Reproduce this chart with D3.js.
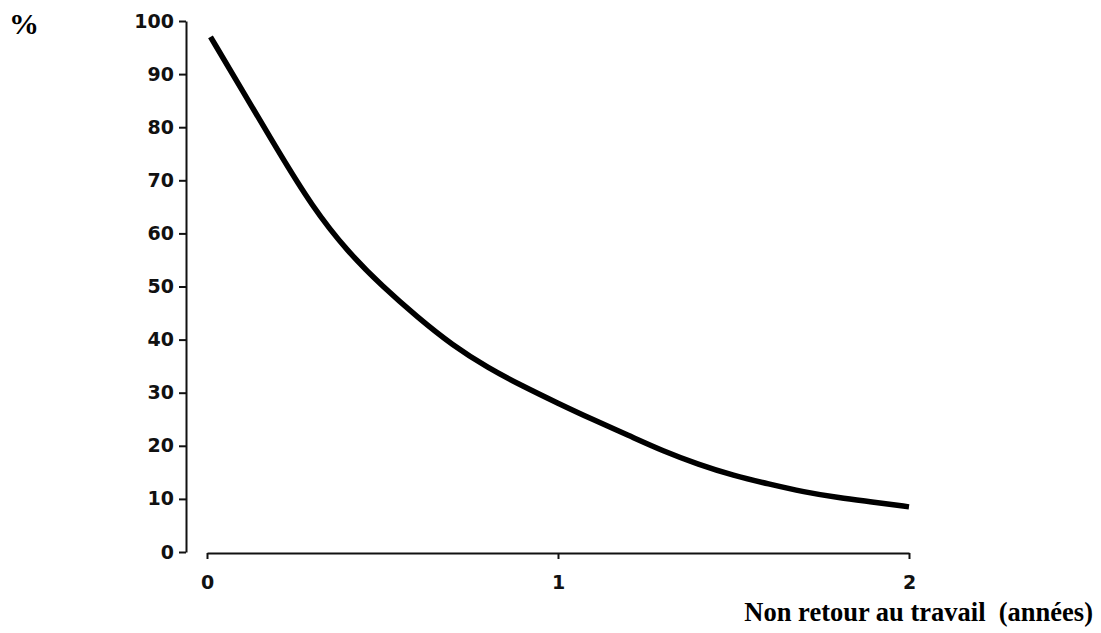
<!DOCTYPE html>
<html>
<head>
<meta charset="utf-8">
<script src="https://cdn.jsdelivr.net/npm/d3@7"></script>
<style>
    body { margin: 0; background: #fff; }
    .tick text { font-family: "DejaVu Sans", sans-serif; font-weight: bold; font-size: 19px; fill: #111; }
    .domain, .tick line { stroke: #111; stroke-width: 2; }
    .title { font-family: "Liberation Serif", "Times New Roman", serif; font-weight: bold; white-space: pre; fill: #000; }
</style>
</head>
<body>
<div id="chart"></div>
<script>
// Years without going back to work
const years = [0.01, 0.1, 0.2, 0.3, 0.4, 0.5, 0.6, 0.7, 0.8, 0.9, 1.0, 1.1, 1.2, 1.3, 1.4, 1.5, 1.6, 1.7, 1.8, 1.9, 2.0];
const pct = [97.0, 87.0, 75.8, 65.0, 56.6, 50.0, 44.2, 38.9, 34.7, 31.2, 28.0, 24.9, 22.0, 19.0, 16.5, 14.4, 12.8, 11.3, 10.2, 9.4, 8.5];

const yTicks = [0, 10, 20, 30, 40, 50, 60, 70, 80, 90, 100];
const xTicks = [0, 1, 2];

const svg = d3.select('#chart')
    .append('svg')
    .attr('width', 1101)
    .attr('height', 633);

const x = d3.scaleLinear().domain([0, 2]).range([207, 909]);
const y = d3.scaleLinear().domain([0, 100]).range([552, 21]);

// Y axis (sits a bit to the left of where the x axis starts)
svg.append('g')
    .attr('transform', 'translate(186,0)')
    .call(d3.axisLeft(y).tickValues(yTicks).tickSize(7).tickSizeOuter(0).tickPadding(5));

// X axis
svg.append('g')
    .attr('transform', 'translate(0,553)')
    .call(d3.axisBottom(x).tickValues(xTicks).tickSize(6).tickSizeOuter(0).tickPadding(17).tickFormat(d3.format('d')));

// The curve
const line = d3.line()
    .x((d, i) => x(years[i]))
    .y(d => y(d))
    .curve(d3.curveBasis);

svg.append('path')
    .datum(pct)
    .attr('d', line)
    .attr('fill', 'none')
    .attr('stroke', '#000')
    .attr('stroke-width', 5.5);

// Labels
svg.append('text')
    .attr('class', 'title')
    .attr('x', 9)
    .attr('y', 34)
    .style('font-size', '30px')
    .text('%');

svg.append('text')
    .attr('class', 'title')
    .attr('x', 1093)
    .attr('y', 621)
    .attr('text-anchor', 'end')
    .style('font-size', '26.5px')
    .text('Non retour au travail  (années)');
</script>
</body>
</html>
